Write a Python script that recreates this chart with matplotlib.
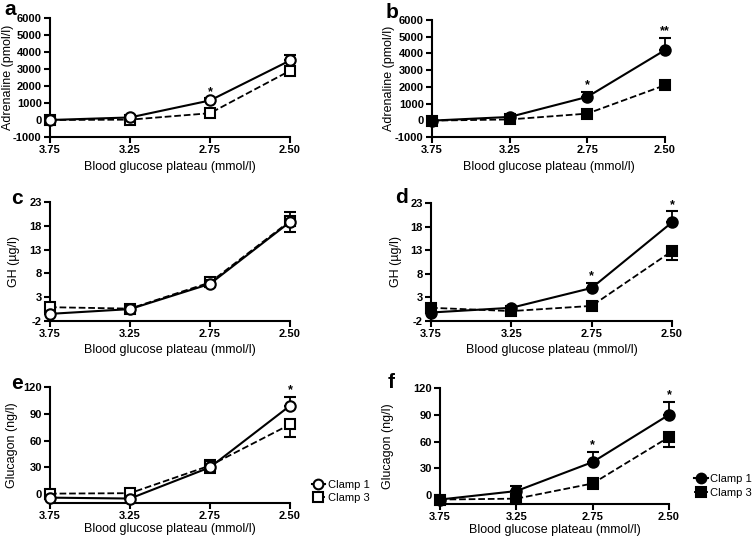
import numpy as np
import matplotlib.pyplot as plt
from matplotlib.lines import Line2D

plt.rcParams['font.family'] = ['Liberation Sans', 'DejaVu Sans']
plt.rcParams['axes.unicode_minus'] = False

# x categories (blood glucose plateau, mmol/l)
plateaus = ['3.75', '3.25', '2.75', '2.50']

# Adrenaline (pmol/l)
adr_a_c1 = [0, 150, 1150, 3500]
adr_a_c1_err = [0, 60, 120, 300]
adr_a_c3 = [0, 20, 400, 2900]
adr_a_c3_err = [0, 20, 80, 200]
adr_b_c1 = [-20, 200, 1400, 4200]
adr_b_c1_err = [0, 60, 300, 750]
adr_b_c3 = [-20, 50, 400, 2100]
adr_b_c3_err = [0, 20, 80, 200]

# GH (ug/l)
gh_c_c1 = [-0.5, 0.5, 5.8, 18.8]
gh_c_c1_err = [0.2, 0.2, 0.8, 2.2]
gh_c_c3 = [0.9, 0.6, 6.1, 19.0]
gh_c_c3_err = [0.3, 0.2, 1.0, 2.4]
gh_d_c1 = [-0.2, 0.8, 5.0, 18.9]
gh_d_c1_err = [0.2, 0.2, 1.1, 2.3]
gh_d_c3 = [0.8, 0.1, 1.2, 12.8]
gh_d_c3_err = [0.2, 0.2, 0.3, 1.8]

# Glucagon (ng/l)
glu_e_c1 = [-4, -5, 30, 99]
glu_e_c1_err = [1, 1, 8, 10]
glu_e_c3 = [0.5, 1, 32, 78]
glu_e_c3_err = [1, 1, 8, 14]
glu_f_c1 = [-5, 4.5, 37, 90]
glu_f_c1_err = [1, 6, 11, 14]
glu_f_c3 = [-5, -4, 13, 65]
glu_f_c3_err = [1, 2, 6.5, 11]

fig = plt.figure(figsize=(7.54, 5.39), dpi=100)

W, H = 754.0, 539.0
def box(x0, x1, ytop, ybot):
    return [x0 / W, 1 - ybot / H, (x1 - x0) / W, (ybot - ytop) / H]

adr_ticks = np.arange(-1000, 6001, 1000)
gh_ticks = [-2, 3, 8, 13, 18, 23]
glu_ticks = [0, 30, 60, 90, 120]

# letter, box, data..., filled, ylabel, ylim, yticks, stars, ylabel x, xlabel pad, letter pos, legend pos
panels = [
    ('a', box(50, 290, 18, 137), adr_a_c1, adr_a_c1_err, adr_a_c3, adr_a_c3_err, False,
     'Adrenaline (pmol/l)', (-1000, 6000), adr_ticks, {2: '*'}, -0.175, 4, (-0.19, 1.07), None),
    ('b', box(432, 665, 20, 137), adr_b_c1, adr_b_c1_err, adr_b_c3, adr_b_c3_err, True,
     'Adrenaline (pmol/l)', (-1000, 6000), adr_ticks, {2: '*', 3: '**'}, -0.185, 4, (-0.2, 1.06), None),
    ('c', box(50, 290, 202, 321), gh_c_c1, gh_c_c1_err, gh_c_c3, gh_c_c3_err, False,
     'GH (µg/l)', (-2, 23), gh_ticks, {}, -0.15, 3, (-0.16, 1.03), None),
    ('d', box(431, 672, 203, 321), gh_d_c1, gh_d_c1_err, gh_d_c3, gh_d_c3_err, True,
     'GH (µg/l)', (-2, 23), gh_ticks, {2: '*', 3: '*'}, -0.146, 3, (-0.15, 1.05), None),
    ('e', box(50, 290, 387, 503), glu_e_c1, glu_e_c1_err, glu_e_c3, glu_e_c3_err, False,
     'Glucagon (ng/l)', (-10, 120), glu_ticks, {3: '*'}, -0.158, 1.5, (-0.16, 1.03), (1.09, 0.10)),
    ('f', box(440, 669, 388, 504), glu_f_c1, glu_f_c1_err, glu_f_c3, glu_f_c3_err, True,
     'Glucagon (ng/l)', (-10, 120), glu_ticks, {2: '*', 3: '*'}, -0.227, 1.5, (-0.23, 1.05), (1.11, 0.155)),
]

x = np.arange(len(plateaus))
for (letter, pos, c1, c1e, c3, c3e, filled, ylabel, ylim, yticks, stars,
     ylab_x, xpad, let_pos, leg_pos) in panels:
    ax = fig.add_axes(pos)
    fc = 'black' if filled else 'white'
    ax.errorbar(x, c3, yerr=[c3e, np.zeros(4)], color='black', ls='--', lw=1.3,
                marker='s', ms=7.5, mfc=fc, mec='black', mew=1.5,
                capsize=4, capthick=1.3, elinewidth=1.3, clip_on=False, zorder=3)
    ax.errorbar(x, c1, yerr=[np.zeros(4), c1e], color='black', ls='-', lw=1.5,
                marker='o', ms=7.5, mfc=fc, mec='black', mew=1.5,
                capsize=4, capthick=1.3, elinewidth=1.3, clip_on=False, zorder=4)
    for i, s in stars.items():
        top = c1[i] + c1e[i]
        ax.annotate(s, (x[i], top), xytext=(0, 0.5), textcoords='offset points',
                    ha='center', va='bottom', fontsize=9, fontweight='bold')
    ax.set_xlim(0, 3)
    ax.set_ylim(*ylim)
    ax.set_yticks(yticks)
    ax.set_xticks(x)
    ax.set_xticklabels(plateaus)
    for sp in ['top', 'right']:
        ax.spines[sp].set_visible(False)
    for sp in ['left', 'bottom']:
        ax.spines[sp].set_linewidth(1.5)
    ax.tick_params(width=1.5, length=4, labelsize=8, pad=2)
    for lab in ax.get_xticklabels() + ax.get_yticklabels():
        lab.set_fontweight('bold')
    ax.set_ylabel(ylabel, fontsize=9)
    ax.yaxis.set_label_coords(ylab_x, 0.5)
    ax.yaxis.label.set_va('center')
    ax.set_xlabel('Blood glucose plateau (mmol/l)', fontsize=9, labelpad=xpad)
    ax.text(let_pos[0], let_pos[1], letter, transform=ax.transAxes,
            fontsize=15, fontweight='bold', ha='left', va='center')
    if leg_pos is not None:
        handles = [
            Line2D([], [], color='black', ls='-', lw=1.5, marker='o', ms=7,
                   mfc=fc, mec='black', mew=1.5),
            Line2D([], [], color='black', ls='--', lw=1.3, marker='s', ms=7,
                   mfc=fc, mec='black', mew=1.5),
        ]
        ax.legend(handles, ['Clamp 1', 'Clamp 3'], loc='center left', bbox_to_anchor=leg_pos,
                  frameon=False, fontsize=8, handlelength=1.2, handletextpad=0.25,
                  labelspacing=0.3, borderaxespad=0, borderpad=0)

fig.savefig('out.png', dpi=100)
